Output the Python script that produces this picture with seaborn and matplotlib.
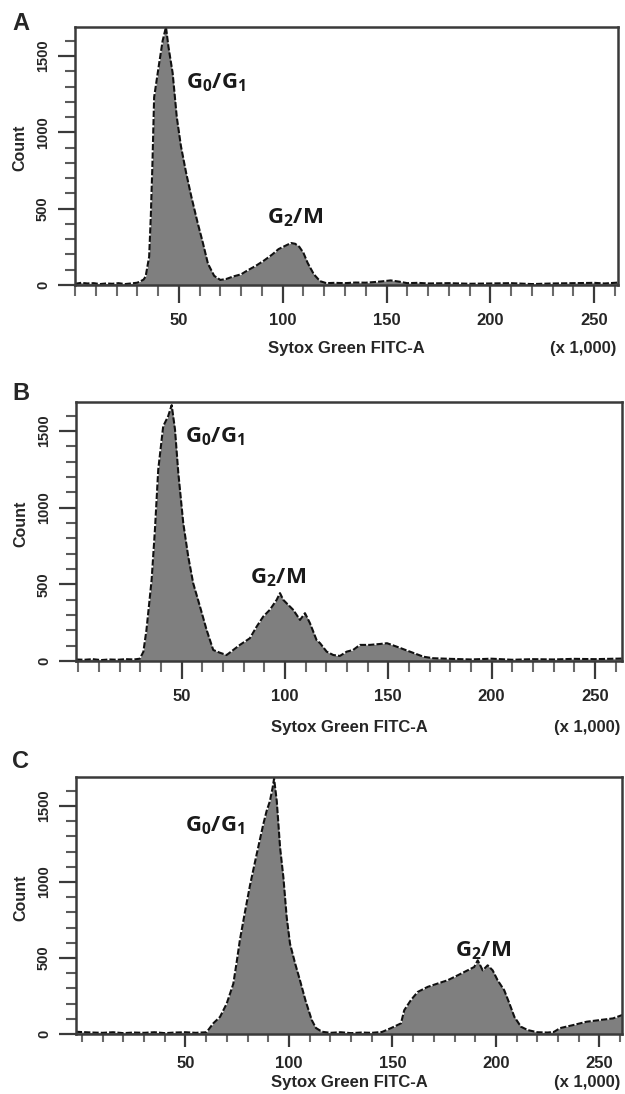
import numpy as np
import pandas as pd
import matplotlib.pyplot as plt
import seaborn as sns
from matplotlib.ticker import MultipleLocator

# Sytox Green FITC-A (x 1,000) vs count
a_x = [0, 3, 6, 9, 12, 15, 18, 21, 24, 27, 30, 32, 33, 34, 35.7, 36.5, 37.3, 38.1, 40.5, 42.2,
       43.8, 45, 47, 49, 51, 53.5, 56, 59, 61.5, 64, 67, 70, 73, 76, 80, 83, 87, 91, 95, 98,
       101, 104, 106, 108, 110, 112, 115, 118, 121, 125, 130, 135, 140, 145, 148, 152, 156, 160, 165, 170,
       180, 190, 200, 210, 220, 230, 240, 250, 255, 262]
a_y = [8, 14, 10, 12, 6, 10, 8, 12, 6, 10, 15, 28, 35, 55, 185, 450, 800, 1230, 1450, 1600,
       1690, 1560, 1390, 1100, 910, 735, 580, 410, 280, 140, 60, 33, 40, 55, 70, 95, 125, 160, 200, 235,
       255, 275, 270, 250, 210, 145, 70, 25, 12, 14, 12, 16, 15, 20, 24, 30, 22, 12, 14, 10,
       12, 8, 10, 12, 6, 10, 12, 14, 10, 16]

b_x = [-1, 3, 7, 11, 15, 19, 23, 27, 29.8, 31.5, 33, 35.5, 37.1, 38.7, 41.1, 43.5, 45.2, 46.8, 48.4, 50.8,
       53.2, 55.6, 58.9, 62.1, 65.3, 68.5, 71.8, 75, 78.2, 83, 86.3, 89.5, 92.7, 96, 97.6, 99.2, 100.8, 104, 107.3, 109.7,
       112.1, 115.3, 117, 120.2, 123.4, 126.6, 129.9, 133, 136.3, 141, 146, 149.4, 154, 160.5, 167, 171.8, 180, 190, 200, 210,
       220, 230, 240, 250, 263]
b_y = [10, 8, 12, 6, 10, 8, 12, 10, 15, 60, 203, 530, 857, 1250, 1532, 1598, 1670, 1511, 1228, 900,
       682, 508, 355, 203, 72, 54, 39, 72, 105, 148, 224, 290, 334, 399, 443, 399, 377, 334, 268, 312,
       247, 137, 116, 61, 39, 33, 61, 72, 105, 105, 111, 116, 94, 61, 28, 18, 14, 10, 15, 8,
       12, 10, 14, 12, 16]

c_x = [-3, 5, 10, 15, 20, 25, 30, 35, 40, 45, 50, 55, 60.2, 63.4, 66.7, 69.9, 73.1, 74.7, 76.3, 78.7,
       81.2, 84.4, 87.6, 89.2, 90.8, 92.1, 92.8, 94.1, 95.7, 97.3, 98.9, 100.5, 103, 105.3, 108, 111, 113, 116, 120, 125,
       130, 135, 140, 145, 149.3, 154.1, 155.7, 158.9, 162.2, 167, 171.8, 176.7, 181.5, 186.3, 189.5, 191.2, 193.6, 196, 198.4, 200.8,
       204, 206.5, 208.9, 212.1, 215.4, 220, 225, 228, 231, 237.3, 243.8, 250.2, 256.6, 261]
c_y = [15, 10, 8, 12, 6, 10, 8, 12, 6, 10, 12, 8, 12, 70, 113, 200, 330, 470, 620, 800,
       980, 1183, 1380, 1467, 1532, 1620, 1680, 1532, 1227, 1030, 768, 594, 463, 354, 220, 92, 40, 15, 8, 12,
       6, 10, 8, 14, 39, 70, 157, 223, 277, 310, 332, 354, 386, 419, 441, 485, 419, 452, 419, 354,
       288, 201, 113, 48, 26, 12, 10, 14, 39, 59, 81, 92, 103, 125]

panel_letters = ['A', 'B', 'C']
g01_pos = [(53.4, 1323), (51.6, 1467), (50, 1369)]
g2m_pos = [(92.6, 439), (83, 541), (180, 550)]
x_ticks = [50, 100, 150, 200, 250]
y_ticks = [0, 500, 1000, 1500]

sns.set_style('ticks')
plt.rcParams['font.family'] = ['Liberation Sans', 'DejaVu Sans']
plt.rcParams['mathtext.fontset'] = 'custom'
plt.rcParams['mathtext.rm'] = 'Open Sans:bold'
plt.rcParams['mathtext.it'] = 'Open Sans:bold'
plt.rcParams['mathtext.bf'] = 'Open Sans:bold'

fig = plt.figure(figsize=(6.25, 10.94), dpi=100)

boxes = [[0.12, 0.7395, 0.869, 0.2358],
         [0.1216, 0.3958, 0.8736, 0.2367],
         [0.1216, 0.0548, 0.8736, 0.2349]]
xlims = [(0, 261.5), (-1.1, 263.1), (-2.9, 260.9)]
xlab_y = [-0.245, -0.255, -0.19]
letter_y = [24, 394, 761]
tick_len = [(13, 8), (13, 8), (9, 6)]

panels = [(a_x, a_y), (b_x, b_y), (c_x, c_y)]
edge = '#3a3a3a'

for i, (xs, ys) in enumerate(panels):
    ax = fig.add_axes(boxes[i])
    df = pd.DataFrame({'fitc': xs, 'count': ys})
    ax.fill_between(df['fitc'], df['count'], color='#7f7f7f', lw=0)
    sns.lineplot(data=df, x='fitc', y='count', ax=ax, color='#111111', lw=1.5,
                 linestyle=(0, (3, 1)))
    ax.set_xlim(*xlims[i])
    ax.set_ylim(0, 1690)

    for s in ax.spines.values():
        s.set_color(edge)
        s.set_linewidth(1.8)

    ax.set_xticks(x_ticks)
    ax.xaxis.set_minor_locator(MultipleLocator(10))
    ax.set_yticks(y_ticks)
    ax.yaxis.set_minor_locator(MultipleLocator(100))
    ax.tick_params(axis='x', which='major', length=tick_len[i][0], width=1.6, color=edge,
                   labelsize=12, pad=7)
    ax.tick_params(axis='x', which='minor', length=tick_len[i][1], width=1.5, color='#6a6a6a')
    ax.tick_params(axis='y', which='major', length=12, width=1.6, color=edge,
                   labelsize=10.5, pad=6, labelrotation=90)
    ax.tick_params(axis='y', which='minor', length=7, width=1.5, color='#5a5a5a')
    for lab in ax.get_xticklabels() + ax.get_yticklabels():
        lab.set_fontweight('bold')
    for lab in ax.get_yticklabels():
        lab.set_va('center')

    ax.set_xlabel('')
    ax.set_ylabel('Count', fontsize=11.5, fontweight='bold')
    ax.yaxis.set_label_coords(-0.088, 0.53)
    ax.text(0.5, xlab_y[i], 'Sytox Green FITC-A', transform=ax.transAxes,
            ha='center', va='center', fontsize=12, fontweight='bold')
    ax.text(0.997, xlab_y[i], '(x 1,000)', transform=ax.transAxes,
            ha='right', va='center', fontsize=12, fontweight='bold')

    ax.text(g01_pos[i][0], g01_pos[i][1], r'$\mathrm{G_0/G_1}$', fontsize=16,
            ha='left', va='center', color='#1a1a1a')
    ax.text(g2m_pos[i][0], g2m_pos[i][1], r'$\mathrm{G_2/M}$', fontsize=16,
            ha='left', va='center', color='#1a1a1a')

    fig.text(12 / 625, 1 - letter_y[i] / 1094, panel_letters[i], fontsize=17,
             fontweight='bold', ha='left', va='center')

fig.savefig('out.png', dpi=100)
